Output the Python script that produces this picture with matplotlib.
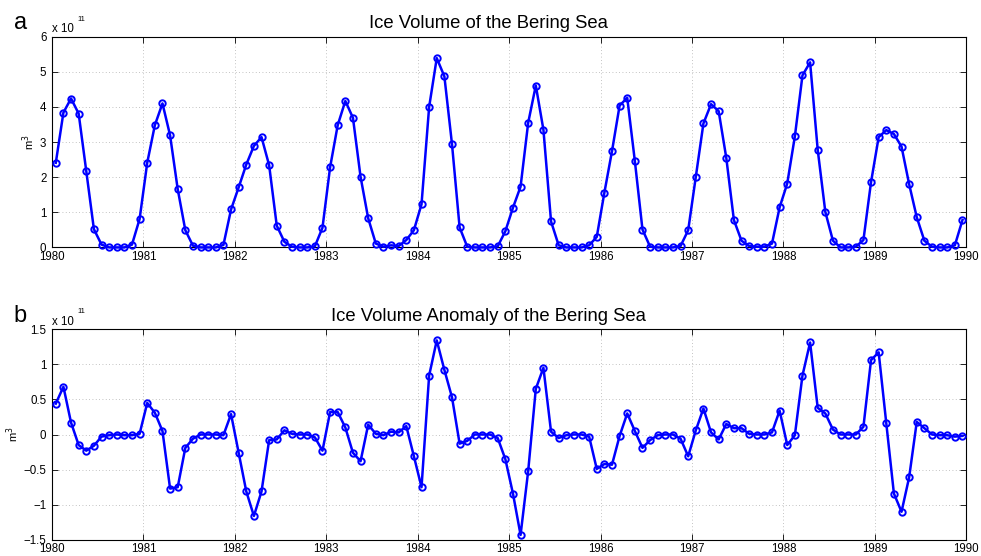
import numpy as np
import matplotlib.pyplot as plt
from matplotlib.ticker import FuncFormatter

plt.rcParams['font.family'] = ['Liberation Sans', 'DejaVu Sans']

YEARS = list(range(1980, 1991))

# monthly ice volume, units of 1e11 m^3 (Jan..Dec per row)
volume = [
    [2.41, 3.84, 4.24, 3.81, 2.17, 0.52, 0.08, 0.00, 0.00, 0.00, 0.08, 0.81],  # 1980
    [2.41, 3.48, 4.10, 3.19, 1.66, 0.49, 0.05, 0.00, 0.00, 0.00, 0.07, 1.08],  # 1981
    [1.71, 2.36, 2.89, 3.14, 2.34, 0.62, 0.16, 0.02, 0.00, 0.00, 0.03, 0.56],  # 1982
    [2.28, 3.48, 4.17, 3.69, 2.01, 0.83, 0.11, 0.02, 0.06, 0.04, 0.21, 0.49],  # 1983
    [1.23, 4.00, 5.39, 4.87, 2.94, 0.57, 0.02, 0.00, 0.00, 0.00, 0.03, 0.46],  # 1984
    [1.13, 1.73, 3.55, 4.61, 3.35, 0.74, 0.06, 0.00, 0.00, 0.00, 0.06, 0.30],  # 1985
    [1.56, 2.74, 4.04, 4.26, 2.46, 0.51, 0.02, 0.00, 0.00, 0.00, 0.04, 0.49],  # 1986
    [2.01, 3.53, 4.08, 3.88, 2.55, 0.78, 0.19, 0.04, 0.02, 0.02, 0.11, 1.14],  # 1987
    [1.82, 3.16, 4.90, 5.27, 2.78, 1.01, 0.19, 0.00, 0.00, 0.02, 0.21, 1.86],  # 1988
    [3.14, 3.34, 3.23, 2.87, 1.80, 0.86, 0.19, 0.02, 0.00, 0.00, 0.06, 0.78],  # 1989
]

# monthly anomaly, units of 1e11 m^3
anomaly = [
    [0.44, 0.68, 0.17, -0.15, -0.23, -0.16, -0.03, -0.01, 0.00, -0.01, -0.01, 0.01],  # 1980
    [0.45, 0.31, 0.05, -0.77, -0.75, -0.19, -0.06, 0.00, 0.00, 0.00, -0.01, 0.29],    # 1981
    [-0.26, -0.81, -1.16, -0.81, -0.08, -0.07, 0.06, 0.01, 0.00, 0.00, -0.04, -0.23], # 1982
    [0.32, 0.32, 0.10, -0.26, -0.38, 0.14, 0.01, -0.01, 0.04, 0.03, 0.12, -0.31],     # 1983
    [-0.75, 0.84, 1.34, 0.92, 0.53, -0.13, -0.09, 0.00, 0.00, 0.00, -0.05, -0.35],    # 1984
    [-0.84, -1.43, -0.52, 0.65, 0.95, 0.04, -0.05, -0.01, 0.00, 0.00, -0.03, -0.49],  # 1985
    [-0.42, -0.43, -0.02, 0.30, 0.05, -0.19, -0.08, -0.01, 0.00, 0.00, -0.06, -0.31], # 1986
    [0.06, 0.37, 0.03, -0.07, 0.15, 0.09, 0.09, 0.01, 0.00, 0.00, 0.03, 0.34],        # 1987
    [-0.15, -0.01, 0.84, 1.31, 0.38, 0.30, 0.07, 0.00, 0.00, 0.00, 0.11, 1.06],       # 1988
    [1.17, 0.16, -0.84, -1.10, -0.61, 0.18, 0.09, 0.00, -0.01, -0.01, -0.03, -0.02],  # 1989
]

vol_ticks = [0, 1, 2, 3, 4, 5, 6]
anom_ticks = [-1.5, -1, -0.5, 0, 0.5, 1, 1.5]


def fmt(v, pos):
    return ('%g' % v).replace('-', '\u2212')


def style_axes(ax, yticks, title, letter):
    ax.set_xlim(1980, 1990)
    ax.set_xticks(YEARS)
    ax.set_ylim(yticks[0], yticks[-1])
    ax.set_yticks(yticks)
    ax.yaxis.set_major_formatter(FuncFormatter(fmt))
    ax.tick_params(direction='in', top=True, right=True, length=4, width=0.6,
                   labelsize=8.3)
    ax.tick_params(axis='x', pad=2.5)
    ax.tick_params(axis='y', pad=4)
    ax.grid(True, linestyle=(0, (1, 3)), color='#b0b0b0', linewidth=0.6)
    for s in ax.spines.values():
        s.set_linewidth(0.8)
    ax.set_title(title, fontsize=13.3, x=0.477, pad=6)
    ax.set_ylabel('m$^3$', fontsize=8, labelpad=2)
    # MATLAB-style exponent label
    ax.text(0.0, 1.021, 'x 10', transform=ax.transAxes, fontsize=8.3, ha='left', va='baseline')
    ax.text(0.0277, 1.0745, '11', transform=ax.transAxes, fontsize=5.5, ha='left', va='baseline')
    ax.text(-0.042, 1.035, letter, transform=ax.transAxes, fontsize=17, ha='left', va='baseline')


def main():
    t = 1980 + (np.arange(120) + 0.5) / 12.0
    v = np.array(volume).ravel()
    a = np.array(anomaly).ravel()

    fig = plt.figure(figsize=(9.81, 5.56), dpi=100)
    ax1 = fig.add_axes([0.053, 0.555, 0.932, 0.379])
    ax2 = fig.add_axes([0.053, 0.029, 0.932, 0.379])

    for ax, y in ((ax1, v), (ax2, a)):
        ax.plot(t, y, color='#0000ff', linewidth=1.8, marker='o', markersize=4.6,
                markerfacecolor='none', markeredgewidth=1.4, clip_on=False, zorder=3)

    style_axes(ax1, vol_ticks, 'Ice Volume of the Bering Sea', 'a')
    style_axes(ax2, anom_ticks, 'Ice Volume Anomaly of the Bering Sea', 'b')

    fig.savefig('out.png', dpi=100)


if __name__ == '__main__':
    main()
